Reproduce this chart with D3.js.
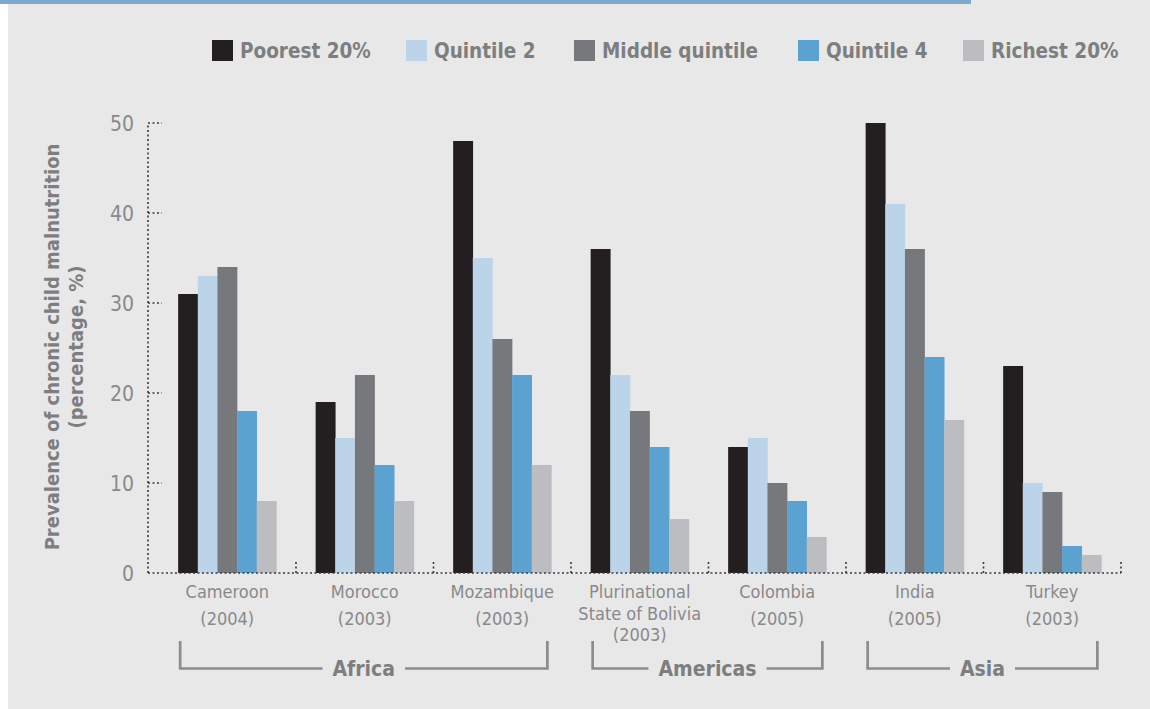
<!DOCTYPE html>
<html>
<head>
<meta charset="utf-8">
<script src="https://cdn.jsdelivr.net/npm/d3@7/dist/d3.min.js"></script>
<style>
  html, body { margin: 0; padding: 0; background: #ffffff; }
  svg { display: block; }
  text { font-family: "DejaVu Sans Condensed", "DejaVu Sans", sans-serif; }
</style>
</head>
<body>
<svg id="chart" width="1150" height="709"></svg>
<script>
// ---- Data ----
const categories = ["Cameroon|(2004)", "Morocco|(2003)", "Mozambique|(2003)",
  "Plurinational|State of Bolivia|(2003)", "Colombia|(2005)", "India|(2005)", "Turkey|(2003)"];
const seriesNames = ["Poorest 20%", "Quintile 2", "Middle quintile", "Quintile 4", "Richest 20%"];
const poorest   = [31, 19, 48, 36, 14, 50, 23];
const quintile2 = [33, 15, 35, 22, 15, 41, 10];
const middle    = [34, 22, 26, 18, 10, 36, 9];
const quintile4 = [18, 12, 22, 14, 8, 24, 3];
const richest   = [8, 8, 12, 6, 4, 17, 2];
const yTicks = [0, 10, 20, 30, 40, 50];
const regions = ["Africa", "Americas", "Asia"];
const regionSpans = [[0, 2], [3, 4], [5, 6]];
const yTitle = ["Prevalence of chronic child malnutrition", "(percentage, %)"];

const seriesValues = [poorest, quintile2, middle, quintile4, richest];
const colors = ["#231f20", "#bcd4ea", "#77787b", "#5ba2d0", "#bcbdc0"];
const textGray = "#88898b";

const svg = d3.select("#chart");
// background
svg.append("rect").attr("x", 0).attr("y", 0).attr("width", 1150).attr("height", 709).attr("fill", "#ffffff");
svg.append("rect").attr("x", 8).attr("y", 0).attr("width", 1142).attr("height", 709).attr("fill", "#e8e8e8");
svg.append("rect").attr("x", 0).attr("y", 0).attr("width", 971).attr("height", 4).attr("fill", "#7fa8d0");

const axisX = 148, plotLeft = 158.5, plotRight = 1121;
const y = d3.scaleLinear().domain([0, 50]).range([573, 123]);
const x = d3.scaleBand().domain(categories).range([plotLeft, plotRight]).paddingInner(0).paddingOuter(0);
const xi = d3.scaleBand().domain(seriesNames).range([0, x.bandwidth()]).paddingOuter(1.0).paddingInner(0);

// bars
const g = svg.append("g");
categories.forEach((c, ci) => {
  seriesNames.forEach((s, si) => {
    const v = seriesValues[si][ci];
    g.append("rect")
      .attr("x", x(c) + xi(s))
      .attr("y", y(v))
      .attr("width", xi.bandwidth() + 0.3)
      .attr("height", y(0) - y(v))
      .attr("fill", colors[si]);
  });
});

// y axis (dotted)
const dotStyle = sel => sel.attr("stroke", "#3a3a3a").attr("stroke-width", 1.6).attr("stroke-dasharray", "2,2.5");
svg.append("line").attr("x1", axisX).attr("x2", axisX).attr("y1", y(0)).attr("y2", y(50)).call(dotStyle);
yTicks.forEach(t => {
  if (t > 0) svg.append("line").attr("x1", axisX).attr("x2", axisX + 14).attr("y1", y(t)).attr("y2", y(t)).call(dotStyle);
  svg.append("text").attr("x", 134).attr("y", y(t)).attr("dy", "0.36em")
    .attr("text-anchor", "end").attr("fill", textGray).attr("font-size", 21).text(t);
});

// x axis baseline (dotted) and separators
svg.append("line").attr("x1", axisX).attr("x2", plotRight).attr("y1", y(0)).attr("y2", y(0)).call(dotStyle);
categories.forEach((c, ci) => {
  if (ci > 0) svg.append("line").attr("x1", x(c)).attr("x2", x(c)).attr("y1", y(0)).attr("y2", y(0) - 11).call(dotStyle);
});
svg.append("line").attr("x1", plotRight).attr("x2", plotRight).attr("y1", y(0)).attr("y2", y(0) - 11).call(dotStyle);

// category labels
categories.forEach(c => {
  const lines = c.split("|");
  const step = lines.length > 2 ? 21.5 : 27;
  const t = svg.append("text").attr("text-anchor", "middle").attr("fill", textGray).attr("font-size", 18);
  lines.forEach((ln, i) => {
    t.append("tspan").attr("x", x(c) + x.bandwidth() / 2).attr("y", 598 + i * step).text(ln);
  });
});

// region brackets
const bracketColor = "#8c8c8c";
regions.forEach((r, ri) => {
  const [a, b] = regionSpans[ri];
  const x0 = x(categories[a]) + xi(seriesNames[0]) + 2;
  const x1 = x(categories[b]) + xi(seriesNames[4]) + xi.bandwidth() - 4;
  const mid = (x0 + x1) / 2;
  const yTop = 641, yBot = 668.5;
  const txt = svg.append("text").attr("x", mid).attr("y", yBot + 7).attr("text-anchor", "middle")
    .attr("fill", "#7d7e80").attr("font-size", 21).attr("font-weight", "bold").text(r);
  const w = txt.node().getComputedTextLength();
  const gap = w / 2 + 10;
  svg.append("path")
    .attr("d", `M${x0},${yTop}V${yBot}H${mid - gap}M${mid + gap},${yBot}H${x1}V${yTop}`)
    .attr("fill", "none").attr("stroke", bracketColor).attr("stroke-width", 2.7);
});

// y title
const yt = svg.append("g").attr("transform", "translate(0,347) rotate(-90)");
yt.append("text").attr("x", 0).attr("y", 59).attr("text-anchor", "middle").attr("fill", "#7d7e80")
  .attr("font-size", 20).attr("font-weight", "bold").text(yTitle[0]);
yt.append("text").attr("x", 0).attr("y", 83).attr("text-anchor", "middle").attr("fill", "#7d7e80")
  .attr("font-size", 20).attr("font-weight", "bold").text(yTitle[1]);

// legend
const legendX = [212, 406, 574, 798, 963];
seriesNames.forEach((s, i) => {
  svg.append("rect").attr("x", legendX[i]).attr("y", 40).attr("width", 21).attr("height", 21).attr("fill", colors[i]);
  svg.append("text").attr("x", legendX[i] + 28).attr("y", 50.5).attr("dy", "0.36em")
    .attr("fill", "#7d7e80").attr("font-size", 20.5).attr("font-weight", "bold").text(s);
});
</script>
</body>
</html>
